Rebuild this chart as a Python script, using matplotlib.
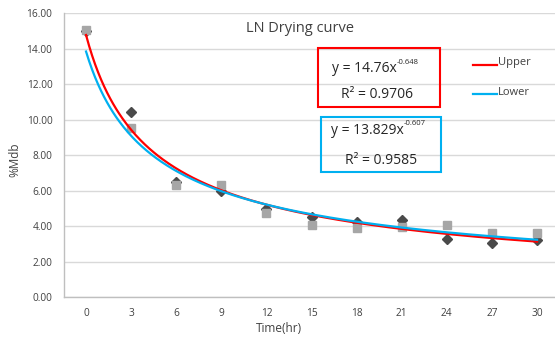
import numpy as np
import matplotlib
matplotlib.use("Agg")
import matplotlib.pyplot as plt
from matplotlib.patches import Rectangle
from matplotlib.lines import Line2D

# ---- data ----
categories = [0, 3, 6, 9, 12, 15, 18, 21, 24, 27, 30]
upper = [15.00, 10.44, 6.50, 5.95, 4.94, 4.49, 4.24, 4.34, 3.25, 3.06, 3.20]
lower = [15.04, 9.50, 6.30, 6.30, 4.71, 4.06, 3.87, 3.96, 4.06, 3.59, 3.59]
upper_coef, upper_exp, upper_r2 = "14.76", "-0.648", "0.9706"
lower_coef, lower_exp, lower_r2 = "13.829", "-0.607", "0.9585"
yticks = [0, 2, 4, 6, 8, 10, 12, 14, 16]

plt.rcParams['font.family'] = ['Open Sans', 'DejaVu Sans']
W, H = 555, 338
fig = plt.figure(figsize=(W / 100, H / 100), dpi=100)

def fx(x):
    return x / W

def fy(y):
    return 1 - y / H

left, right, top, bottom = 63.5, 555, 13, 297
ax = fig.add_axes([fx(left), fy(bottom), fx(right - left), (bottom - top) / H])
spacing = 45.1
n = len(categories)
idx = np.arange(n)
ax.set_xlim(-0.5, -0.5 + (right - left) / spacing)
ax.set_ylim(0, 16)

txt = '#404040'
ax.set_yticks(yticks)
ax.set_yticklabels([f"{v:.2f}" for v in yticks], fontsize=7.3, color=txt)
ax.set_xticks(idx)
ax.set_xticklabels([str(c) for c in categories], fontsize=7.3, color=txt)
ax.tick_params(length=0)
ax.tick_params(axis='y', pad=8)
ax.tick_params(axis='x', pad=8)
ax.grid(axis='y', color='#D9D9D9', linewidth=1.0)
ax.set_axisbelow(True)
for s in ['top', 'right']:
    ax.spines[s].set_visible(False)
for s in ['left', 'bottom']:
    ax.spines[s].set_color('#BFBFBF')
    ax.spines[s].set_linewidth(1.0)

# markers
ax.plot(idx, upper, linestyle='none', marker='D', markersize=4.6, color='#4A4A4A', zorder=3)
ax.plot(idx, lower, linestyle='none', marker='s', markersize=5.6, color='#A6A6A6', zorder=4)

# trendlines (Excel power trendlines on category index 1..n)
xs = np.linspace(1, n, 300)
ax.plot(xs - 1, float(upper_coef) * xs ** float(upper_exp), color='#FF0000', linewidth=1.6, zorder=5)
ax.plot(xs - 1, float(lower_coef) * xs ** float(lower_exp), color='#00B0F0', linewidth=1.6, zorder=5)

# title and labels
fig.text(fx(300), fy(28), "LN Drying curve", fontsize=10.5, color=txt, ha='center', va='center')
fig.text(fx(279), fy(329), "Time(hr)", fontsize=8.5, color=txt, ha='center', va='center')
fig.text(fx(15), fy(160), "%Mdb", fontsize=8.5, color=txt, ha='center', va='center', rotation=90)

# equation boxes
fig.patches.append(Rectangle((fx(318), fy(107)), fx(440 - 318), (107 - 48) / H,
                             transform=fig.transFigure, fill=False, edgecolor='#FF0000', linewidth=1.5))
fig.patches.append(Rectangle((fx(321), fy(172)), fx(441 - 321), (172 - 117) / H,
                             transform=fig.transFigure, fill=False, edgecolor='#00B0F0', linewidth=1.5))

eq_color = '#262626'

def equation(xl, yc, coef, expo):
    t = fig.text(fx(xl), fy(yc), f"y = {coef}x", fontsize=10, color=eq_color, ha='left', va='center')
    ax.annotate(expo, xy=(1.0, 0.95), xycoords=t, fontsize=5.5, color=eq_color,
                ha='left', va='center', annotation_clip=False)

equation(332, 69, upper_coef, upper_exp)
fig.text(fx(377), fy(94), f"R² = {upper_r2}", fontsize=10, color=eq_color, ha='center', va='center')
equation(331, 130, lower_coef, lower_exp)
fig.text(fx(381), fy(161), f"R² = {lower_r2}", fontsize=10, color=eq_color, ha='center', va='center')

# legend
fig.lines.append(Line2D([fx(473), fx(497)], [fy(65), fy(65)], transform=fig.transFigure, color='#FF0000', linewidth=1.6))
fig.lines.append(Line2D([fx(473), fx(497)], [fy(94), fy(94)], transform=fig.transFigure, color='#00B0F0', linewidth=1.6))
fig.text(fx(498), fy(63), "Upper", fontsize=8, color=txt, ha='left', va='center')
fig.text(fx(498), fy(92), "Lower", fontsize=8, color=txt, ha='left', va='center')

fig.savefig("out.png", dpi=100)
